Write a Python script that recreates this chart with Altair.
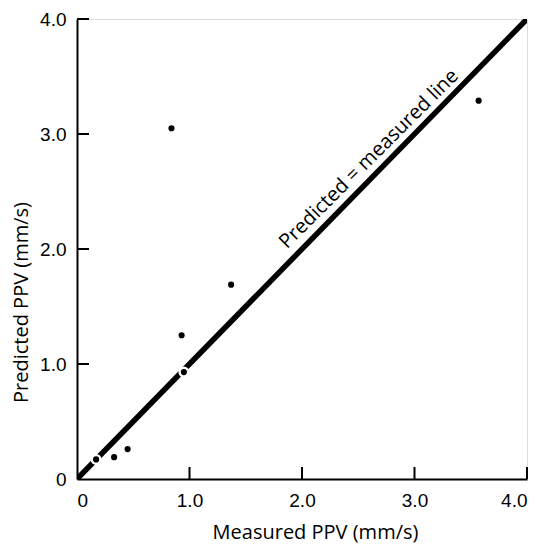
import altair as alt
import pandas as pd

measured = [0.17, 0.33, 0.45, 0.84, 0.93, 0.95, 1.37, 3.57]
predicted = [0.17, 0.19, 0.26, 3.05, 1.25, 0.93, 1.69, 3.29]
line_x = [0.0, 4.0]
line_y = [0.0, 4.0]
tick_values = [0, 1, 2, 3, 4]
inner_ticks = [1, 2, 3, 4]
line_label = "Predicted = measured line"

W, H = 450, 460
FONT = "Liberation Sans"
TFONT = "Open Sans"

pts = pd.DataFrame({"m": measured, "p": predicted})
ln = pd.DataFrame({"m": line_x, "p": line_y})
tk = pd.DataFrame({"v": inner_ticks})
lab = pd.DataFrame({"m": [2.69], "p": [2.69], "t": [line_label]})

xs = alt.Scale(domain=[0, 4], nice=False, zero=False)
ys = alt.Scale(domain=[0, 4], nice=False, zero=False)
lblexpr = "datum.value == 0 ? '0' : format(datum.value, '.1f')"

xaxis = alt.Axis(values=tick_values, labelExpr=lblexpr, ticks=False, grid=False,
                 domainColor="black", domainWidth=2, labelFont=FONT, labelFontSize=19,
                 labelColor="black", labelPadding=12, title="Measured PPV (mm/s)",
                 titleFont=TFONT, titleFontSize=20, titleFontWeight="normal",
                 titleColor="black", titleX=238, titleY=59, titleBaseline="alphabetic",
                 titleAlign="center")
yaxis = alt.Axis(values=tick_values, labelExpr=lblexpr, ticks=False, grid=False,
                 domainColor="black", domainWidth=2, labelFont=FONT, labelFontSize=19,
                 labelColor="black", labelPadding=11, title="Predicted PPV (mm/s)",
                 titleFont=TFONT, titleFontSize=20, titleFontWeight="normal",
                 titleColor="black", titleX=-56, titleY=283, titleBaseline="middle",
                 titleAlign="center", titleAngle=270)

line = alt.Chart(ln).mark_line(color="black", strokeWidth=5.5, clip=True).encode(
    x=alt.X("m:Q", scale=xs, axis=xaxis),
    y=alt.Y("p:Q", scale=ys, axis=yaxis),
)
halo = alt.Chart(pts).mark_point(filled=True, color="white", size=120, opacity=1).encode(
    x=alt.X("m:Q", scale=xs), y=alt.Y("p:Q", scale=ys))
dots = alt.Chart(pts).mark_point(filled=True, color="black", size=38, opacity=1).encode(
    x=alt.X("m:Q", scale=xs), y=alt.Y("p:Q", scale=ys))
xt = alt.Chart(tk).mark_rule(color="black", strokeWidth=2).encode(
    x=alt.X("v:Q", scale=xs), y=alt.value(H), y2=alt.value(H - 12))
yt = alt.Chart(tk).mark_rule(color="black", strokeWidth=2).encode(
    y=alt.Y("v:Q", scale=ys), x=alt.value(0), x2=alt.value(12))
txt = alt.Chart(lab).mark_text(angle=315, font=TFONT, fontSize=20, color="black",
                               baseline="middle", align="center", dy=-15).encode(
    x=alt.X("m:Q", scale=xs), y=alt.Y("p:Q", scale=ys), text="t:N")

chart = alt.layer(line, halo, dots, xt, yt, txt).properties(
    width=W, height=H,
    autosize=alt.AutoSizeParams(type="none"),
    padding={"left": 69, "top": 11, "right": 13, "bottom": 64},
).configure_view(stroke=None).configure(background="white")

chart.save("out.html", embed_options={"renderer": "svg", "actions": False})
